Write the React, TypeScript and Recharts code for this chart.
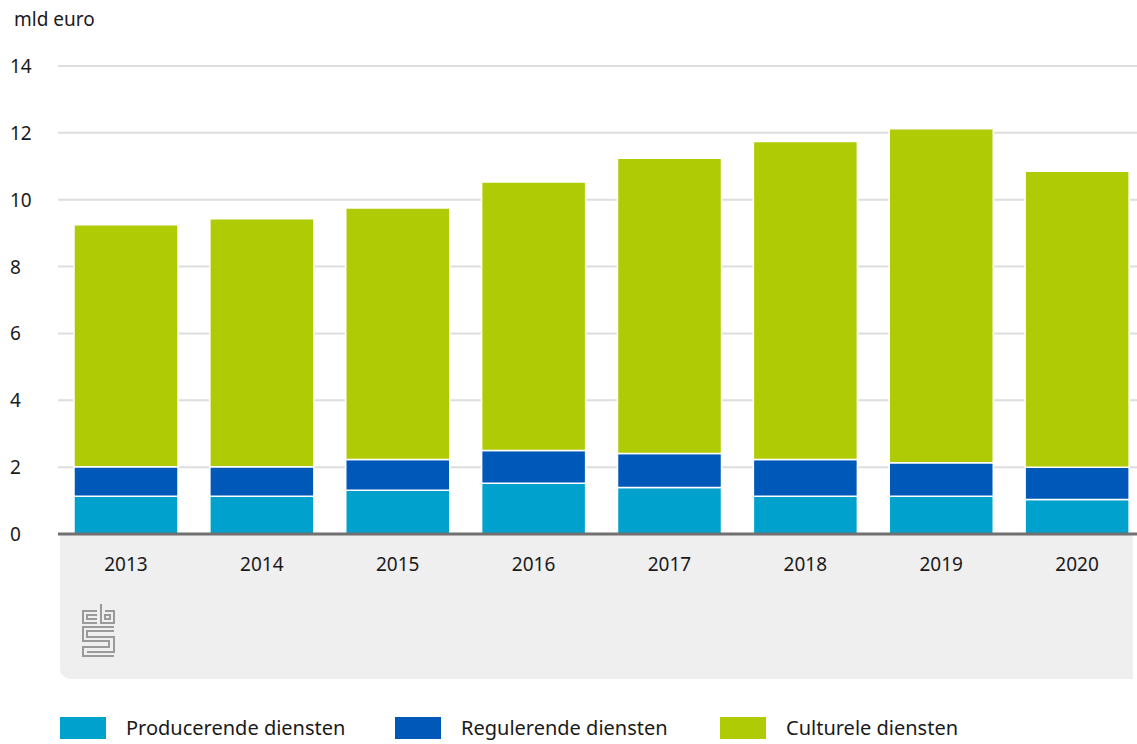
import { BarChart, Bar, XAxis, YAxis, CartesianGrid } from 'recharts'

const years = ['2013', '2014', '2015', '2016', '2017', '2018', '2019', '2020']

// mld euro
const producerende = [1.13, 1.13, 1.31, 1.52, 1.39, 1.13, 1.13, 1.03]
const regulerende = [0.88, 0.88, 0.92, 0.98, 1.02, 1.1, 1.0, 0.97]
const culturele = [7.24, 7.42, 7.52, 8.03, 8.83, 9.51, 9.99, 8.85]

const yTicks = [0, 2, 4, 6, 8, 10, 12, 14]

const series = [
  { key: 'producerende', name: 'Producerende diensten', color: '#00a1cd' },
  { key: 'regulerende', name: 'Regulerende diensten', color: '#0058b8' },
  { key: 'culturele', name: 'Culturele diensten', color: '#afcb05' },
]

const FONT = '"Noto Sans", "Open Sans", sans-serif'

const chartData = years.map((year, i) => ({
  year,
  producerende: producerende[i],
  regulerende: regulerende[i],
  culturele: culturele[i],
}))

function YTick({ y, payload }: any) {
  return (
    <text x={10} y={y} dy={7} textAnchor="start" fontSize={19} fill="#1a1a1a" fontFamily={FONT}>
      {payload.value}
    </text>
  )
}

function XTick({ x, payload }: any) {
  return (
    <text x={x} y={571} textAnchor="middle" fontSize={19} fill="#1a1a1a" fontFamily={FONT}>
      {payload.value}
    </text>
  )
}

function CbsLogo() {
  return (
    <svg width={34} height={56} viewBox="0 0 34 56" style={{ position: 'absolute', left: 82, top: 603 }}>
      <g fill="none" stroke="#9a9a9a" strokeWidth={2}>
        <path d="M15 8 H1 V20 H15" />
        <path d="M15 12 H5 V16 H15" />
        <path d="M19 1 V20 H32 V8 H23" />
        <rect x={23} y={12} width={5} height={4} />
        <path d="M32 24 H1 V38 H27 V44 H1 V53 H32" />
        <path d="M32 28 H5 V34 H32 V49 H5" />
      </g>
    </svg>
  )
}

export default function App() {
  const itemLefts = [60, 395, 720]
  return (
    <div
      style={{
        position: 'absolute',
        left: 0,
        top: 0,
        width: 1137,
        height: 744,
        overflow: 'hidden',
        background: '#fff',
        fontFamily: FONT,
      }}
    >
      <div
        style={{
          position: 'absolute',
          left: 60,
          top: 535,
          width: 1073,
          height: 144,
          background: '#efefef',
          borderBottomLeftRadius: 10,
        }}
      />
      <CbsLogo />
      <div style={{ position: 'absolute', left: 14, top: 6, fontSize: 19, color: '#1a1a1a' }}>mld euro</div>

      <div style={{ position: 'absolute', left: 0, top: 0 }}>
        <BarChart
          width={1150}
          height={744}
          data={chartData}
          margin={{ top: 66, right: 5, bottom: 170, left: 8 }}
          barSize={104}
        >
          <CartesianGrid vertical={false} stroke="#dddddd" strokeWidth={2} />
          <YAxis
            width={50}
            domain={[0, 14]}
            ticks={yTicks}
            axisLine={false}
            tickLine={false}
            tick={<YTick />}
          />
          <XAxis
            dataKey="year"
            height={40}
            axisLine={{ stroke: '#707070', strokeWidth: 3 }}
            tickLine={false}
            tick={<XTick />}
          />
          {series.map((s) => (
            <Bar
              key={s.key}
              dataKey={s.key}
              name={s.name}
              stackId="a"
              fill={s.color}
              stroke="#fff"
              strokeWidth={1.5}
              isAnimationActive={false}
            />
          ))}
        </BarChart>
      </div>

      {series.map((s, i) => (
        <div
          key={s.key}
          style={{ position: 'absolute', left: itemLefts[i], top: 717, display: 'flex', alignItems: 'center' }}
        >
          <span style={{ display: 'inline-block', width: 46, height: 22, background: s.color, marginRight: 20 }} />
          <span style={{ fontSize: 20, color: '#1a1a1a', lineHeight: '22px' }}>{s.name}</span>
        </div>
      ))}
    </div>
  )
}
